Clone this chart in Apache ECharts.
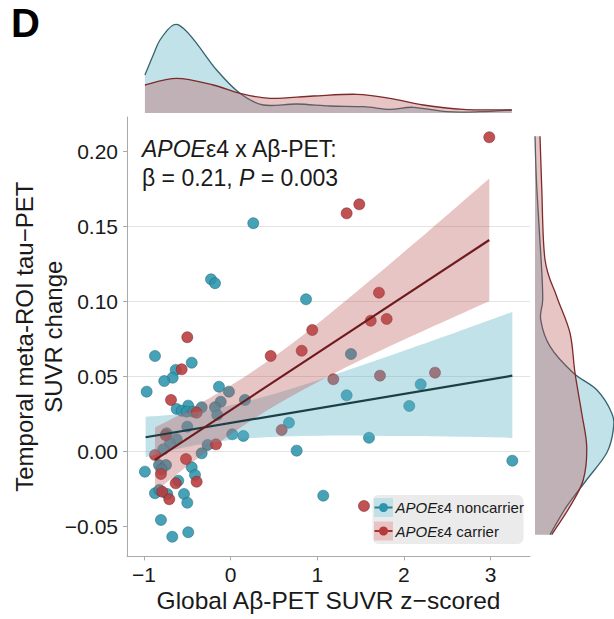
<!DOCTYPE html>
<html>
<head>
<meta charset="utf-8">
<title>APOEε4 x Aβ-PET</title>
<script src="https://cdn.jsdelivr.net/npm/echarts@6/dist/echarts.min.js"></script>
<style>
    html, body { margin: 0; padding: 0; background: #fff; }
    #chartMain { width: 614px; height: 619px; }
</style>
</head>
<body>
<div id="chartMain"></div>
<script>
    // tick values
    var xTicks = [-1, 0, 1, 2, 3];
    var yTicks = [-0.05, 0, 0.05, 0.1, 0.15, 0.2];

    // APOEε4 noncarrier points [x, y]
    var nonCarrier = [
        [0.261, 0.1523], [-0.227, 0.1149], [-0.181, 0.1123], [0.870, 0.1016],
        [1.389, 0.0651], [2.194, 0.0449], [1.339, 0.0376], [2.062, 0.0305],
        [1.597, 0.0093], [3.252, -0.0060], [1.069, -0.0293],
        [-0.874, 0.0638], [-0.450, 0.0593], [-0.635, 0.0545], [-0.670, 0.0493],
        [-0.767, 0.0471], [-0.970, 0.0400], [-0.135, 0.0433], [-0.020, 0.0400],
        [0.165, 0.0345], [-0.115, 0.0333], [-0.181, 0.0296], [-0.155, 0.0245],
        [-0.335, 0.0296], [-0.490, 0.0307], [-0.624, 0.0285], [-0.566, 0.0273],
        [-0.508, 0.0267], [-0.432, 0.0267], [-0.501, 0.0167], [-0.739, 0.0123],
        [-0.624, 0.0083], [-0.701, 0.0056], [-0.778, 0.0016], [0.018, 0.0116],
        [0.146, 0.0105], [-0.266, 0.0045], [-0.335, -0.0011], [0.673, 0.0193],
        [0.762, 0.0007], [-0.990, -0.0133], [-0.828, -0.0089], [-0.747, -0.0089],
        [-0.797, -0.0117], [-0.450, -0.0104], [-0.412, -0.0155], [-0.605, -0.0193],
        [-0.874, -0.0277], [-0.824, -0.0255], [-0.732, -0.0282], [-0.539, -0.0282],
        [-0.501, -0.0340], [-0.805, -0.0455], [-0.674, -0.0567], [-0.490, -0.0537]
    ];

    // APOEε4 carrier points [x, y]
    var carrier = [
        [-0.501, 0.0763], [0.942, 0.0811], [2.986, 0.2096], [1.339, 0.1589],
        [1.485, 0.1649], [1.712, 0.1060], [1.617, 0.0873], [1.801, 0.0885],
        [0.820, 0.0673], [1.185, 0.0483], [1.724, 0.0507], [2.359, 0.0527],
        [1.539, -0.0362], [-0.566, 0.0549], [-0.689, 0.0345], [-0.393, 0.0260],
        [0.462, 0.0638], [-0.874, -0.0022], [-0.170, 0.0049], [-0.516, -0.0049],
        [-0.805, -0.0149], [-0.635, -0.0211], [-0.393, -0.0200], [-0.790, -0.0267],
        [-0.709, -0.0317], [0.589, 0.0145], [-0.750, 0.0110]
    ];

    // fitted lines, end points
    var nonCarrierFit = [[-0.982, 0.0096], [3.252, 0.0507]];
    var carrierFit = [[-0.874, -0.0055], [2.986, 0.1411]];

    // confidence bands
    var nonCarrierBandX = [-0.982, -0.508, 0.015, 0.538, 1.06, 1.583, 2.105, 2.628, 3.252];
    var nonCarrierBandLo = [-0.0037, 0.0031, 0.0079, 0.0100, 0.0107, 0.0107, 0.0104, 0.0099, 0.0091];
    var nonCarrierBandHi = [0.0233, 0.0257, 0.0311, 0.0392, 0.0487, 0.0589, 0.0694, 0.0801, 0.0931];
    var carrierBandX = [-0.874, -0.51, 0.015, 0.54, 1.06, 1.58, 2.105, 2.63, 2.986];
    var carrierBandLo = [-0.0268, -0.0100, 0.0122, 0.0316, 0.0482, 0.0633, 0.0774, 0.0911, 0.1003];
    var carrierBandHi = [0.0162, 0.0272, 0.0446, 0.0650, 0.0880, 0.1127, 0.1382, 0.1643, 0.1821];

    // marginal density along x (top)
    var topNonX = [-0.99, -0.894, -0.816, -0.663, -0.547, -0.393, -0.162, 0.107, 0.376, 0.762, 1.147, 1.531, 1.84, 2.109, 2.494, 2.878, 3.245];
    var topNonH = [38, 58, 73, 88, 84.7, 69.7, 43, 19.7, 8, 9, 7, 6.3, 3.7, 5.7, 1.3, 1.3, 3];
    var topCarX = [-0.99, -0.624, -0.201, 0.107, 0.454, 0.954, 1.455, 1.84, 2.224, 2.686, 3.245];
    var topCarH = [28, 34.7, 28, 19.7, 14.7, 17, 18.7, 14.7, 8, 3.7, 3];

    // marginal density along y (right)
    var rightNonY = [0.2102, 0.1769, 0.1213, 0.1013, 0.088, 0.0702, 0.0525, 0.0413, 0.0258, 0.0147, -0.0009, -0.0187, -0.0365, -0.0553];
    var rightNonW = [0, 1.7, 6.7, 7.7, 5.7, 15, 38.3, 61.7, 76.7, 78.3, 71.7, 51.7, 31.7, 15];
    var rightCarY = [0.2102, 0.1769, 0.128, 0.1035, 0.0791, 0.0525, 0.0258, 0.0035, -0.0187, -0.0365, -0.0553];
    var rightCarW = [5, 6.7, 10, 21.7, 35, 40, 46.7, 51.7, 48.3, 35, 16.7];

    var FONT = "'Liberation Sans', Arial, Helvetica, sans-serif";
    var BLUE = '#2f95ad', RED = '#b83a3c';
    var BLUE_FILL = 'rgba(95,178,198,0.38)', RED_FILL = 'rgba(185,80,80,0.33)';

    // catmull-rom -> cubic bezier, coords already in pixels
    function bezierSegs(p) {
        var s = '';
        for (var i = 0; i < p.length - 1; i++) {
            var p0 = p[i - 1] || p[i], p1 = p[i], p2 = p[i + 1], p3 = p[i + 2] || p2;
            s += ' C' + (p1[0] + (p2[0] - p0[0]) / 6) + ',' + (p1[1] + (p2[1] - p0[1]) / 6) +
                ' ' + (p2[0] - (p3[0] - p1[0]) / 6) + ',' + (p2[1] - (p3[1] - p1[1]) / 6) +
                ' ' + p2[0] + ',' + p2[1];
        }
        return s;
    }

    function bandSeries(xs, lo, hi, fill) {
        return {
            type: 'custom', silent: true, z: 3,
            data: [[xs[0], lo[0]]],
            renderItem: function (params, api) {
                var up = xs.map(function (x, i) { return api.coord([x, hi[i]]); });
                var dn = xs.map(function (x, i) { return api.coord([x, lo[i]]); }).reverse();
                return {
                    type: 'path',
                    shape: { pathData: 'M' + up[0] + bezierSegs(up) + ' L' + dn[0] + bezierSegs(dn) + ' Z' },
                    style: { fill: fill }
                };
            }
        };
    }

    // horizontal = true : density drawn along y in the right panel
    function densitySeries(axisIdx, vals, dens, fill, stroke, horizontal) {
        return {
            type: 'custom', silent: true, xAxisIndex: axisIdx, yAxisIndex: axisIdx,
            data: [[0, 0]],
            renderItem: function (params, api) {
                var c = vals.map(function (v, i) {
                    return api.coord(horizontal ? [dens[i], v] : [v, dens[i]]);
                });
                var last = vals.length - 1;
                var b0 = api.coord(horizontal ? [0, vals[0]] : [vals[0], 0]);
                var b1 = api.coord(horizontal ? [0, vals[last]] : [vals[last], 0]);
                return {
                    type: 'group',
                    children: [
                        { type: 'path', shape: { pathData: 'M' + b0 + ' L' + c[0] + bezierSegs(c) + ' L' + b1 + ' Z' }, style: { fill: fill } },
                        { type: 'path', shape: { pathData: 'M' + c[0] + bezierSegs(c) }, style: { fill: 'none', stroke: stroke, lineWidth: 1.3 } }
                    ]
                };
            }
        };
    }

    function fmtX(v) { return (v < 0 ? '\u2212' : '') + Math.abs(v); }
    function fmtY(v) { return (v < 0 ? '\u2212' : '') + Math.abs(v).toFixed(2); }

    var myChart = echarts.init(document.getElementById('chartMain'), null, { renderer: 'svg' });

    myChart.setOption({
        animation: false,
        backgroundColor: '#fff',
        textStyle: { fontFamily: FONT },
        grid: [
            { left: 127, right: 84, top: 117, bottom: 62.6, containLabel: false, outerBoundsMode: 'none' },
            { left: 127, right: 84, top: 13, height: 100, outerBoundsMode: 'none' },
            { left: 535, right: 0, top: 117, bottom: 62.6, outerBoundsMode: 'none' }
        ],
        xAxis: [
            {
                type: 'value', gridIndex: 0, min: -1.197, max: 3.456,
                name: 'Global Aβ-PET SUVR z\u2212scored', nameLocation: 'middle', nameGap: 32,
                nameMoveOverlap: false,
                nameTextStyle: { fontSize: 24.5, color: '#1a1a1a', fontFamily: FONT },
                axisLine: { show: true, onZero: false, lineStyle: { color: '#aaaaaa', width: 1 } },
                axisTick: { show: true, length: 4, customValues: xTicks, lineStyle: { color: '#aaaaaa' } },
                axisLabel: { customValues: xTicks, formatter: fmtX, fontSize: 21, color: '#1a1a1a', margin: 8 },
                splitLine: { show: false }
            },
            { type: 'value', gridIndex: 1, min: -1.197, max: 3.456, show: false },
            { type: 'value', gridIndex: 2, min: 0, max: 79, show: false }
        ],
        yAxis: [
            {
                type: 'value', gridIndex: 0, min: -0.0698, max: 0.2231,
                name: 'Temporal meta-ROI tau\u2212PET\nSUVR change', nameLocation: 'middle', nameGap: 59,
                nameMoveOverlap: false,
                nameTextStyle: { fontSize: 24, lineHeight: 29, color: '#1a1a1a', fontFamily: FONT },
                axisLine: { show: true, onZero: false, lineStyle: { color: '#aaaaaa', width: 1 } },
                axisTick: { show: true, length: 4, customValues: yTicks, lineStyle: { color: '#aaaaaa' } },
                axisLabel: { customValues: yTicks, formatter: fmtY, fontSize: 21, color: '#1a1a1a', margin: 9 },
                splitLine: { show: true, showMinLine: false, showMaxLine: false, lineStyle: { color: '#e3e3e3', width: 1 } }
            },
            { type: 'value', gridIndex: 1, min: 0, max: 100, show: false },
            { type: 'value', gridIndex: 2, min: -0.0698, max: 0.2231, show: false }
        ],
        series: [
            {
                name: 'APOEε4 noncarrier', type: 'scatter', data: nonCarrier, symbolSize: 11,
                itemStyle: { color: BLUE, borderColor: '#1d6677', borderWidth: 0.6, opacity: 0.88 }
            },
            {
                name: 'APOEε4 carrier', type: 'scatter', data: carrier, symbolSize: 11,
                itemStyle: { color: RED, borderColor: '#7a2024', borderWidth: 0.6, opacity: 0.88 }
            },
            bandSeries(nonCarrierBandX, nonCarrierBandLo, nonCarrierBandHi, BLUE_FILL),
            bandSeries(carrierBandX, carrierBandLo, carrierBandHi, RED_FILL),
            {
                type: 'line', data: nonCarrierFit, showSymbol: false, silent: true, z: 4,
                lineStyle: { color: '#1b3f47', width: 2.2 }
            },
            {
                type: 'line', data: carrierFit, showSymbol: false, silent: true, z: 4,
                lineStyle: { color: '#6e1b1f', width: 2.2 }
            },
            densitySeries(1, topNonX, topNonH, BLUE_FILL, '#35636c', false),
            densitySeries(1, topCarX, topCarH, RED_FILL, '#7d2a2a', false),
            densitySeries(2, rightNonY, rightNonW, BLUE_FILL, '#35636c', true),
            densitySeries(2, rightCarY, rightCarW, RED_FILL, '#7d2a2a', true)
        ],
        graphic: [
            {
                type: 'text', left: 11, top: 3,
                style: { text: 'D', fontSize: 40, fontWeight: 'bold', fill: '#000', fontFamily: FONT }
            },
            {
                type: 'text', left: 142, top: 135, z: 10,
                style: {
                    text: '{i|APOE}ε4 x Aβ-PET:\nβ = 0.21, {i|P} = 0.003',
                    fontSize: 23, lineHeight: 28.5, fill: '#1a1a1a', fontFamily: FONT,
                    rich: { i: { fontStyle: 'italic', fontSize: 23, lineHeight: 28.5, fontFamily: FONT, fill: '#1a1a1a' } }
                }
            },
            {
                type: 'group', left: 372, top: 495, z: 10,
                children: [
                    { type: 'rect', shape: { x: 0, y: 0, width: 151, height: 49, r: 6 }, style: { fill: '#ebebeb' } },
                    { type: 'rect', shape: { x: 1.5, y: 3, width: 19, height: 19 }, style: { fill: '#c2e1e7' } },
                    { type: 'line', shape: { x1: 2, y1: 12.5, x2: 20, y2: 12.5 }, style: { stroke: '#2a7f93', lineWidth: 2 } },
                    { type: 'circle', shape: { cx: 11, cy: 12.5, r: 4.5 }, style: { fill: BLUE } },
                    { type: 'rect', shape: { x: 1.5, y: 26.5, width: 19, height: 19 }, style: { fill: '#e8c3c3' } },
                    { type: 'line', shape: { x1: 2, y1: 36, x2: 20, y2: 36 }, style: { stroke: '#a23236', lineWidth: 2 } },
                    { type: 'circle', shape: { cx: 11, cy: 36, r: 4.5 }, style: { fill: RED } },
                    {
                        type: 'text', x: 23, y: 12.5,
                        style: {
                            text: '{i|APOE}ε4 noncarrier', fontSize: 15, fill: '#1a1a1a', fontFamily: FONT,
                            verticalAlign: 'middle',
                            rich: { i: { fontStyle: 'italic', fontSize: 15, fontFamily: FONT, fill: '#1a1a1a' } }
                        }
                    },
                    {
                        type: 'text', x: 23, y: 36,
                        style: {
                            text: '{i|APOE}ε4 carrier', fontSize: 15, fill: '#1a1a1a', fontFamily: FONT,
                            verticalAlign: 'middle',
                            rich: { i: { fontStyle: 'italic', fontSize: 15, fontFamily: FONT, fill: '#1a1a1a' } }
                        }
                    }
                ]
            }
        ]
    });
</script>
</body>
</html>
